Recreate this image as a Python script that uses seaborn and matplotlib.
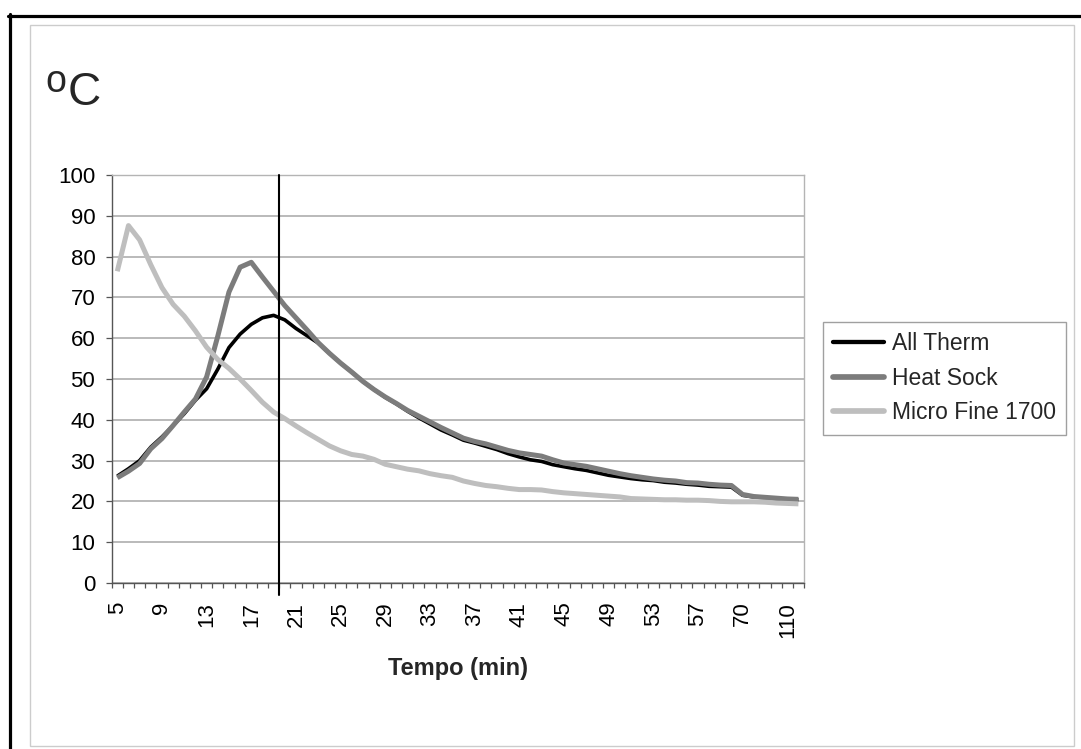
import numpy as np
import pandas as pd
import matplotlib
matplotlib.use("Agg")
import matplotlib.pyplot as plt
import seaborn as sns
from matplotlib.lines import Line2D
from matplotlib.patches import Rectangle

# ---------------- data ----------------
times = list(range(5, 61)) + [70, 80, 90, 100, 110, 120]

all_therm = [26.2, 28.0, 30.0, 33.3, 35.8, 38.6, 41.5, 44.8, 47.6, 52.4,
             57.7, 61.0, 63.4, 65.0, 65.6, 64.5, 62.4, 60.6, 58.8, 56.3,
             53.9, 51.7, 49.4, 47.4, 45.5, 43.9, 42.1, 40.5, 39.0, 37.5,
             36.3, 35.0, 34.3, 33.5, 32.7, 31.7, 30.9, 30.2, 29.8, 29.0,
             28.5, 28.0, 27.6, 27.0, 26.4, 26.0, 25.6, 25.3, 25.1, 24.7,
             24.5, 24.2, 24.0, 23.7, 23.6, 23.5, 21.5, 21.1, 20.9, 20.7,
             20.5, 20.4]

heat_sock = [25.8, 27.4, 29.3, 32.9, 35.4, 38.6, 41.9, 45.1, 50.5, 60.5,
             71.3, 77.4, 78.6, 75.0, 71.5, 68.0, 65.0, 62.0, 58.9, 56.3,
             53.9, 51.7, 49.4, 47.4, 45.6, 44.0, 42.3, 40.9, 39.5, 38.1,
             36.8, 35.5, 34.7, 34.1, 33.3, 32.5, 31.9, 31.5, 31.1, 30.2,
             29.4, 29.0, 28.6, 28.0, 27.4, 26.8, 26.3, 25.9, 25.5, 25.2,
             25.0, 24.6, 24.5, 24.2, 24.0, 23.9, 21.7, 21.2, 21.0, 20.8,
             20.6, 20.5]

micro_fine = [76.4, 87.6, 84.1, 78.0, 72.4, 68.3, 65.4, 61.8, 57.8, 54.8,
              52.6, 50.0, 47.2, 44.3, 41.9, 40.3, 38.5, 36.8, 35.2, 33.6,
              32.4, 31.5, 31.1, 30.3, 29.1, 28.5, 27.9, 27.5, 26.8, 26.3,
              25.9, 25.0, 24.4, 23.9, 23.6, 23.2, 22.9, 22.9, 22.8, 22.4,
              22.1, 21.9, 21.7, 21.5, 21.3, 21.1, 20.7, 20.6, 20.5, 20.4,
              20.4, 20.3, 20.3, 20.2, 20.0, 19.9, 19.9, 19.9, 19.8, 19.6,
              19.5, 19.4]

series_names = ["All Therm", "Heat Sock", "Micro Fine 1700"]
series_colors = ["#000000", "#7c7c7c", "#bebebe"]
series_widths = [2.6, 3.6, 3.6]
y_ticks = list(range(0, 101, 10))
x_label_step = 4
marker_time = 19          # vertical reference line drawn just after this category
x_title = "Tempo (min)"
y_unit = ("o", "C")

# ---------------- style ----------------
sns.set_theme(style="white")
plt.rcParams['font.family'] = ['Liberation Sans', 'DejaVu Sans']

pos = np.arange(len(times))
df = pd.DataFrame({"pos": pos, "All Therm": all_therm,
                   "Heat Sock": heat_sock, "Micro Fine 1700": micro_fine})
long = df.melt(id_vars="pos", var_name="series", value_name="temp")

W, H = 1081, 749
fig = plt.figure(figsize=(W / 100, H / 100), dpi=100)
fig.patch.set_facecolor("white")

# chart-area frame and outer black border
fig.add_artist(Rectangle((30 / W, 1 - 746 / H), 1044 / W, 721 / H,
                         transform=fig.transFigure, fill=False,
                         edgecolor="#cccccc", lw=1.0))
fig.add_artist(Line2D([8 / W, 1.0], [1 - 15.5 / H, 1 - 15.5 / H],
                      transform=fig.transFigure, color="black", lw=2.3))
fig.add_artist(Line2D([9.5 / W, 9.5 / W], [0.0, 1 - 14 / H],
                      transform=fig.transFigure, color="black", lw=2.3))

left, right, top, bottom = 111.7, 804, 175, 583
ax = fig.add_axes([left / W, 1 - bottom / H, (right - left) / W, (bottom - top) / H])

sns.lineplot(data=long, x="pos", y="temp", hue="series", hue_order=series_names,
             palette=dict(zip(series_names, series_colors)),
             size="series", sizes=dict(zip(series_names, series_widths)),
             size_order=series_names, legend=False, ax=ax)
for ln in ax.lines:
    ln.set_solid_joinstyle("round")
    ln.set_solid_capstyle("butt")

ax.set_xlim(-0.5, len(times) - 0.5)
ax.set_ylim(y_ticks[0], y_ticks[-1])
ax.set_yticks(y_ticks)
ax.set_yticklabels([str(v) for v in y_ticks])
ax.yaxis.grid(True, color="#b4b4b4", lw=1.3)
ax.xaxis.grid(False)

# x ticks: small marks at category boundaries, labels every 4th category
ax.set_xticks(np.arange(-0.5, len(times)), minor=False)
ax.set_xticklabels([])
ax.set_xticks(pos[::x_label_step], minor=True)
ax.set_xticklabels([str(t) for t in times[::x_label_step]], minor=True, rotation=90)
ax.tick_params(axis="x", which="major", direction="out", length=3.8, width=0.9,
               color="#555555", bottom=True)
ax.tick_params(axis="x", which="minor", length=0, pad=13.5, labelsize=16,
               labelcolor="black", bottom=True)
ax.tick_params(axis="y", which="major", direction="out", length=4.3, width=0.9,
               color="#555555", pad=7.5, labelsize=16, labelcolor="black", left=True)

for s in ["left", "bottom"]:
    ax.spines[s].set_color("#555555")
    ax.spines[s].set_linewidth(1.0)
for s in ["top", "right"]:
    ax.spines[s].set_color("#b4b4b4")
    ax.spines[s].set_linewidth(1.0)

ax.set_xlabel(x_title, fontsize=17, fontweight="bold", va="center")
ax.xaxis.set_label_coords(0.5, -(668 - bottom) / (bottom - top))
ax.set_ylabel("")

# vertical reference line
vx = times.index(marker_time) + 0.5
ax.axvline(vx, ymin=-0.03, ymax=1.0, color="black", lw=1.5, clip_on=False, zorder=5)

# degree unit label
fig.text(45 / W, 1 - 92 / H, y_unit[0], fontsize=27, ha="left", va="baseline")
fig.text(68 / W, 1 - 105 / H, y_unit[1], fontsize=33, ha="left", va="baseline")

# legend
handles = [Line2D([], [], color=c, lw=w + 0.5) for c, w in zip(series_colors, series_widths)]
leg = ax.legend(handles, series_names, loc="upper left",
                bbox_to_anchor=(823 / W, 1 - 322 / H), bbox_transform=fig.transFigure,
                frameon=True, fancybox=False, edgecolor="#a0a0a0", framealpha=1,
                borderaxespad=0, handlelength=2.2, handletextpad=0.35,
                labelspacing=0.5, borderpad=0.45, fontsize=16.5)
leg.get_frame().set_linewidth(1.0)

fig.savefig("out.png", dpi=100, facecolor="white")
